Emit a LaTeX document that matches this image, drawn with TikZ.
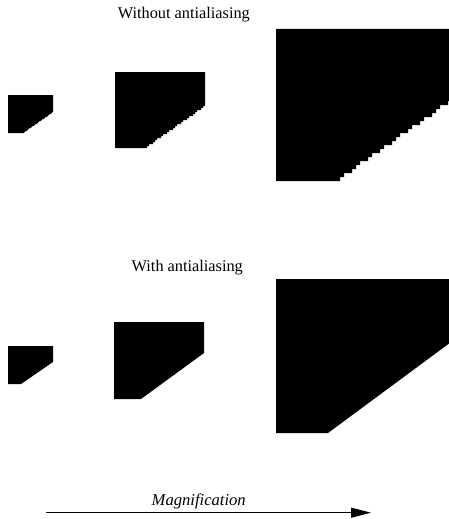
\documentclass[tikz,border=0pt]{standalone}
\usepackage{fontspec}
\setmainfont{Liberation Serif}
\usetikzlibrary{arrows.meta}
\tikzset{
  lbl/.style={inner sep=0pt, anchor=base west, font=\fontsize{16.3pt}{18pt}\selectfont},
  blackfill/.style={fill=black},
  magarrow/.style={line width=1pt, -{Triangle[length=20pt,width=10pt]}}
}
\newcommand{\jaggedshape}[3]{%
  \begin{scope}[shift={(#1,#2)}, scale=#3]
    \fill[blackfill] (0,0) -- (45,0) -- (45,17)
      \foreach \j in {17,...,37} { -- ({round(45-(\j-16.5)*1.43)},\j) -- ({round(45-(\j-16.5)*1.43)},\j+1) }
      -- (0,38) -- cycle;
  \end{scope}}
\begin{document}
\begin{tikzpicture}[x=1pt,y=-1pt]
  \useasboundingbox (0,0) rectangle (449,519);
  \clip (0,0) rectangle (449,519);
  \fill[white] (0,0) rectangle (449,519);
  % titles
  \node[lbl] (t1) at (117.7,18.3) {Without antialiasing};
  \node[lbl] (t2) at (131.5,271.8) {With antialiasing};
  % aliased shapes
  \jaggedshape{8}{95}{1}
  \jaggedshape{115}{72}{2}
  \jaggedshape{276}{29}{4}
  % antialiased shapes
  \fill[blackfill] (8,346) -- (53,346) -- (53,362) -- (21,384) -- (8,384) -- cycle;
  \fill[blackfill] (114,322) -- (204,322) -- (204,353) -- (141,399) -- (114,399) -- cycle;
  \fill[blackfill] (276,279) -- (470,279) -- (470,328) -- (328,433) -- (276,433) -- cycle;
  % magnification arrow
  \node[lbl, font=\fontsize{16.6pt}{18pt}\selectfont\itshape] (mag) at (151.5,505) {Magnification};
  \coordinate (a0) at (46,512.7);
  \coordinate (a1) at (371,512.7);
  \draw[magarrow] (a0) -- (a1);
\end{tikzpicture}
\end{document}
